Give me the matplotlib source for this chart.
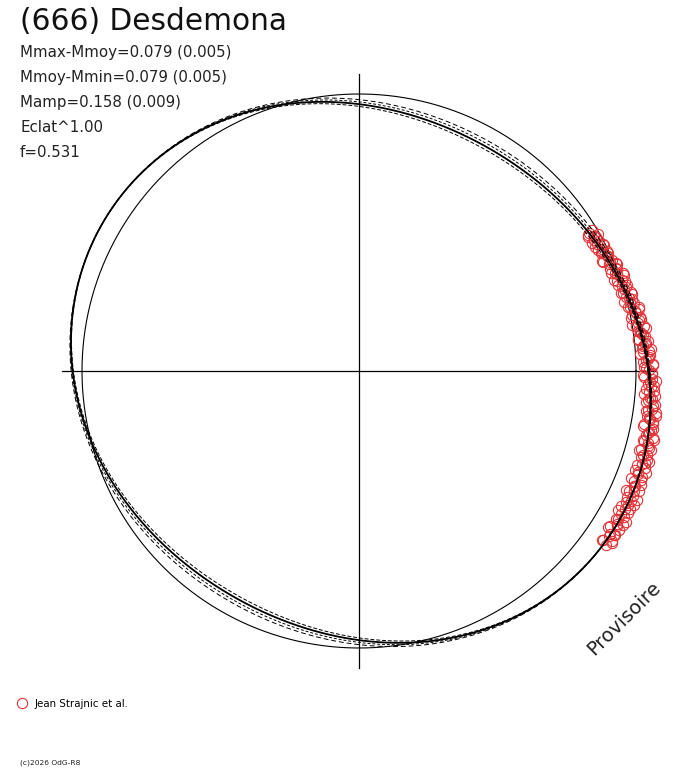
import numpy as np
import matplotlib
matplotlib.use("Agg")
import matplotlib.pyplot as plt
from matplotlib.lines import Line2D

# ---------------- data ----------------
title = "(666) Desdemona"
info_lines = ["Mmax-Mmoy=0.079 (0.005)", "Mmoy-Mmin=0.079 (0.005)",
              "Mamp=0.158 (0.009)", "Eclat^1.00", "f=0.531"]
observer = "Jean Strajnic et al."
copyright_txt = "(c)2026 OdG-R8"
watermark = "Provisoire"

# reference circle radius and fitted polar light-curve (Fourier terms)
circle_radius = 277.0
fit_mean = 278.0
fit_amp2, fit_phase2 = 20.0, 150.0   # 2nd harmonic (deg)
fit_amp1, fit_phase1 = 2.0, -35.0    # 1st harmonic (deg)

# observations, session A: rotational phase (deg) and radial residual from the fit
obs_phase_a = [-35.2, -34.6, -33.9, -33.0, -32.6, -31.7, -31.1, -30.2, -29.8, -28.9,
               -28.3, -27.5, -27.0, -26.1, -25.6, -24.8, -24.0, -23.6, -22.7, -22.1,
               -21.5, -20.6, -20.0, -19.7, -18.8, -18.1, -17.5, -16.9, -16.2, -15.4,
               -14.9, -14.0, -13.6, -12.8, -12.1, -11.5, -10.9, -10.2, -9.4, -8.9,
               -8.1, -7.6, -6.8, -6.1, -5.5, -4.9, -4.2, -3.5, -2.9, -2.2,
               -1.6, -0.8, -0.3, 0.5, 1.1, 1.8, 2.4, 3.1, 3.8, 4.3,
               5.1, 5.6, 6.4, 7.0, 7.7, 8.2, 9.0, 9.5, 10.3, 10.8,
               11.6, 12.2, 12.9, 13.4, 14.2, 14.8, 15.5, 16.1, 16.7, 17.4,
               18.0, 18.7, 19.3, 19.9, 20.6, 21.2, 21.8, 22.5, 23.1, 23.7,
               24.4, 25.0, 25.7, 26.2, 26.9, 27.5, 28.1, 28.8, 29.4, 30.0,
               30.7, 31.2]
obs_resid_a = [2, -3, 5, -1, 4, -5, 1, 6, -2, 3,
               -6, 0, 4, -3, 2, 7, -4, 1, -1, 5,
               -7, 3, -2, -6, 4, 0, 6, -3, 2, -5,
               3, 1, -4, 5, -1, 2, -6, 4, 0, -3,
               6, -2, 3, -5, 1, 5, -1, -4, 4, 0,
               2, -6, 3, -2, 5, -4, 1, 4, -3, 6,
               -1, 2, -5, 3, 0, -2, 5, -6, 2, 4,
               -3, 1, 6, -4, 0, 3, -2, 5, -5, 2,
               -1, 4, -3, 6, 0, -4, 2, 5, -2, 3,
               -6, 1, 4, -1, -3, 5, 0, -4, 3, 2,
               -2, 4]
# session B
obs_phase_b = [-34.9, -34.3, -33.4, -32.8, -32.1, -31.4, -30.7, -30.0, -29.4, -28.6,
               -27.8, -27.3, -26.5, -25.9, -25.2, -24.5, -23.9, -23.2, -22.5, -21.8,
               -21.2, -20.3, -19.5, -18.6, -17.8, -17.2, -16.5, -15.8, -15.1, -14.5,
               -13.8, -13.2, -12.5, -11.8, -11.2, -10.6, -9.9, -9.2, -8.6, -7.9,
               -7.3, -6.6, -5.8, -5.2, -4.6, -3.9, -3.2, -2.6, -1.9, -1.2,
               -0.6, 0.1, 0.8, 1.4, 2.1, 2.7, 3.4, 4.0, 4.7, 5.3,
               6.0, 6.6, 7.3, 7.9, 8.6, 9.2, 9.8, 10.5, 11.1, 11.9,
               12.5, 13.2, 13.8, 14.5, 15.2, 15.8, 16.4, 17.1, 17.7, 18.4,
               19.0, 19.6, 20.3, 20.9, 21.5, 22.2, 22.8, 23.4, 24.1, 24.7,
               25.4, 26.0, 26.6, 27.2, 27.8, 28.5, 29.1, 29.8, 30.4, 31.0]
obs_resid_b = [-4, 6, -1, 3, -6, 5, 0, -3, 7, -2,
               4, -5, 1, 6, -4, 2, -7, 5, 0, -3,
               3, -1, 6, -5, 2, 4, -2, -6, 5, 1,
               -3, 6, -2, 0, 4, -5, 3, -1, 6, -4,
               2, 5, -3, 0, -6, 4, 1, -2, 6, -5,
               3, 0, -4, 5, -1, 2, -6, 4, -3, 1,
               5, -4, 2, -1, 6, -3, 0, 4, -5, 2,
               6, -2, 3, -6, 1, 5, -3, 0, 4, -4,
               2, -5, 6, -1, 3, -3, 5, 0, -6, 2,
               4, -2, 1, 5, -4, 3, -1, 6, -3, 0]

# ---------------- layout ----------------
W, H = 688, 768
CX, CY = 359, 371
AXIS_HALF = 297
RED = "#e2353a"


def fit_r(theta_deg, dmean=0.0, damp=0.0):
    t = np.radians(theta_deg)
    return (fit_mean + dmean
            + (fit_amp2 + damp) * np.cos(2 * (t - np.radians(fit_phase2)))
            + fit_amp1 * np.cos(t - np.radians(fit_phase1)))


plt.rcParams["font.family"] = ["DejaVu Sans"]
fig = plt.figure(figsize=(W / 100, H / 100), dpi=100)
ax = fig.add_axes([0, 0, 1, 1])
ax.set_xlim(-CX, W - CX)
ax.set_ylim(CY - H, CY)
ax.set_aspect("equal")
ax.axis("off")

# axes cross
ax.plot([-AXIS_HALF, AXIS_HALF], [0, 0], color="black", lw=0.9)
ax.plot([0, 0], [-AXIS_HALF, AXIS_HALF], color="black", lw=0.9)

# reference circle
th = np.linspace(0, 360, 1441)
ax.plot(circle_radius * np.cos(np.radians(th)), circle_radius * np.sin(np.radians(th)),
        color="black", lw=0.8)

# observations
for phs, res in [(obs_phase_a, obs_resid_a), (obs_phase_b, obs_resid_b)]:
    ph = np.array(phs)
    rr = fit_r(ph) + np.array(res)
    ax.plot(rr * np.cos(np.radians(ph)), rr * np.sin(np.radians(ph)), "o",
            ms=7.4, mfc="none", mec=RED, mew=0.8, zorder=3)

# fitted curve (several strands)
strands = [(0.0, "-", 1.3), (-1.5, (0, (4, 2)), 0.7),
           (1.5, (0, (3, 2)), 0.7), (3.0, (0, (5, 3)), 0.7)]
for k, ls, lw in strands:
    r = fit_r(th, k, -k)
    ax.plot(r * np.cos(np.radians(th)), r * np.sin(np.radians(th)),
            color="black", lw=lw, ls=ls, zorder=4)


def fx(x):
    return x / W


def fy(y):
    return 1 - y / H


fig.text(fx(20), fy(30.5), title, fontsize=21.3, color="#111111", va="baseline")
for i, line in enumerate(info_lines):
    fig.text(fx(20), fy(57.3 + 25 * i), line, fontsize=10.85, color="#222222",
             va="baseline")

fig.text(fx(624), fy(618), watermark, fontsize=14, rotation=45,
         rotation_mode="anchor", ha="center", va="center", color="#222222")

handle = Line2D([], [], marker="o", ls="none", ms=7.4, mfc="none", mec=RED, mew=0.8)
fig.legend([handle], [observer], loc="center left",
           bbox_to_anchor=(fx(17), fy(704)), frameon=False, fontsize=7.4,
           handlelength=1.0, handletextpad=0.75, borderpad=0, borderaxespad=0)

fig.text(fx(20), fy(765), copyright_txt, fontsize=5.4, color="#222222", va="baseline")

fig.savefig("out.png", dpi=100)
